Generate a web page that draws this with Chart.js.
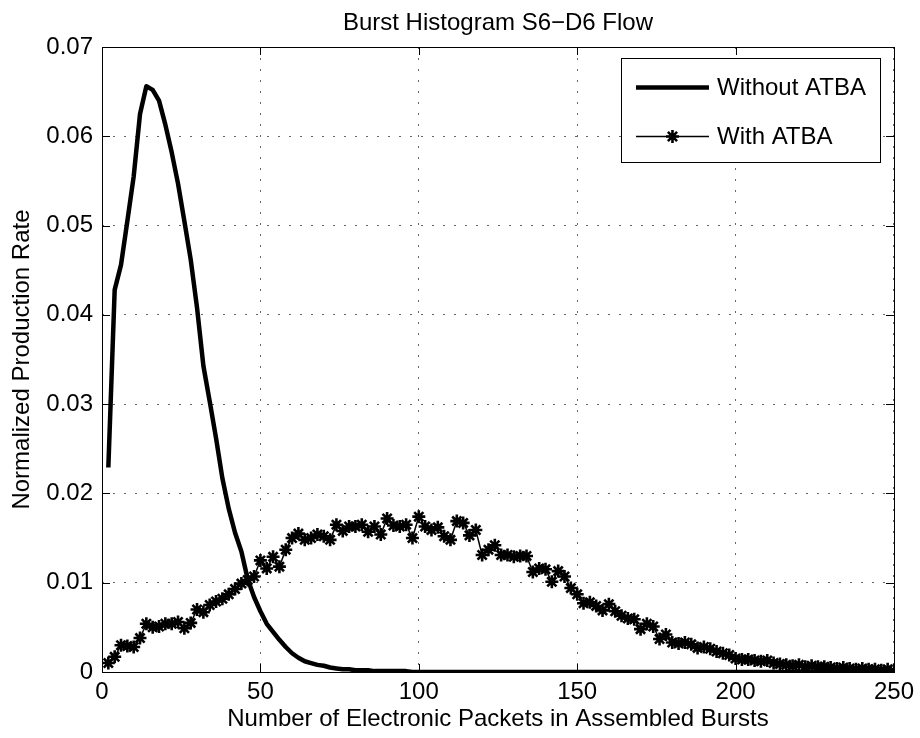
<!DOCTYPE html>
<html>
<head>
<meta charset="utf-8">
<script src="https://cdn.jsdelivr.net/npm/chart.js@4/dist/chart.umd.min.js"></script>
<style>
  html, body { margin: 0; padding: 0; background: #fff; }
  #wrap { width: 920px; height: 738px; }
</style>
</head>
<body>
<div id="wrap"><canvas id="c" width="920" height="738"></canvas></div>
<script>
// ---- data ----
const xBins = [
  2,4,6,8,10,12,14,16,18,20,22,24,26,28,30,32,34,36,38,40,42,44,46,48,50,
  52,54,56,58,60,62,64,66,68,70,72,74,76,78,80,82,84,86,88,90,92,94,96,98,100,
  102,104,106,108,110,112,114,116,118,120,122,124,126,128,130,132,134,136,138,140,142,144,146,148,150,
  152,154,156,158,160,162,164,166,168,170,172,174,176,178,180,182,184,186,188,190,192,194,196,198,200,
  202,204,206,208,210,212,214,216,218,220,222,224,226,228,230,232,234,236,238,240,242,244,246,248,250
];
const withoutATBA = [
  0.0229,0.0428,0.0456,0.0505,0.0555,0.0625,0.0656,0.0652,0.0640,0.0613,
  0.0582,0.0547,0.0505,0.0462,0.0408,0.0343,0.0303,0.0262,0.0217,0.0183,
  0.0156,0.0135,0.0104,0.0084,0.0068,0.0054,0.0045,0.0036,0.0028,0.0021,
  0.0016,0.0012,0.0010,0.0008,0.0007,0.0005,0.0004,0.0003,0.0003,0.0002,
  0.0002,0.0002,0.0001,0.0001,0.0001,0.0001,0.0001,0.0001,0,0,
  0,0,0,0,0,0,0,0,0,0,0,0,0,0,0,0,0,0,0,0,0,0,0,0,0,
  0,0,0,0,0,0,0,0,0,0,0,0,0,0,0,0,0,0,0,0,0,0,0,0,0,
  0,0,0,0,0,0,0,0,0,0,0,0,0,0,0,0,0,0,0,0,0,0,0,0,0
];
const withATBA = [
  0.0010,0.0017,0.0030,0.0029,0.0028,0.0038,0.0054,0.0050,0.0051,0.0054,
  0.0054,0.0056,0.0049,0.0055,0.0070,0.0067,0.0075,0.0079,0.0082,0.0087,
  0.0093,0.0099,0.0103,0.0107,0.0125,0.0116,0.0129,0.0118,0.0137,0.0150,
  0.0155,0.0148,0.0150,0.0154,0.0152,0.0148,0.0165,0.0158,0.0163,0.0163,
  0.0165,0.0157,0.0163,0.0154,0.0172,0.0164,0.0163,0.0165,0.0150,0.0174,
  0.0163,0.0159,0.0162,0.0152,0.0148,0.0169,0.0167,0.0153,0.0159,0.0131,
  0.0137,0.0142,0.0131,0.0131,0.0129,0.0130,0.0130,0.0112,0.0116,0.0115,
  0.0101,0.0113,0.0107,0.0094,0.0087,0.0077,0.0078,0.0074,0.0069,0.0076,
  0.0068,0.0063,0.0060,0.0059,0.0048,0.0054,0.0051,0.0037,0.0042,0.0033,
  0.0032,0.0033,0.0031,0.0027,0.0028,0.0026,0.0023,0.0021,0.0019,0.0015,
  0.0014,0.0014,0.0013,0.0012,0.0013,0.0010,0.0009,0.0008,0.0007,0.0008,
  0.0006,0.0007,0.0006,0.0006,0.0005,0.0004,0.0005,0.0004,0.0003,0.0004,
  0.0003,0.0003,0.0002,0.0003,0.0002
];
const xTicks = [0, 50, 100, 150, 200, 250];
const yTicks = [0, 0.01, 0.02, 0.03, 0.04, 0.05, 0.06, 0.07];
const seriesLabels = ['Without ATBA', 'With ATBA'];
const chartTitle = 'Burst Histogram S6\u2212D6 Flow';
const xTitle = 'Number of Electronic Packets in Assembled Bursts';
const yTitle = 'Normalized Production Rate';

// ---- styling ----
const FONT = "'Liberation Sans', Arial, Helvetica, sans-serif";
const FS = 24;

const toPoints = (ys) => xBins.map((x, i) => ({ x: x, y: ys[i] }));

// title centred over the axes (MATLAB style)
const titlePlugin = {
  id: 'axesTitle',
  afterDraw(chart) {
    const { ctx, chartArea: a } = chart;
    ctx.save();
    ctx.fillStyle = '#000';
    ctx.font = FS + 'px ' + FONT;
    ctx.textAlign = 'center';
    ctx.textBaseline = 'alphabetic';
    ctx.fillText(chartTitle, (a.left + a.right) / 2, a.top - 17);
    ctx.restore();
  }
};

// frame with inward ticks on all four sides
const framePlugin = {
  id: 'frame',
  afterDatasetsDraw(chart) {
    const { ctx, chartArea: a, scales } = chart;
    ctx.save();
    ctx.strokeStyle = '#000';
    ctx.lineWidth = 1;
    ctx.setLineDash([]);
    ctx.strokeRect(Math.round(a.left) + 0.5, Math.round(a.top) + 0.5,
                   Math.round(a.right - a.left), Math.round(a.bottom - a.top));
    const L = 8;
    ctx.beginPath();
    xTicks.forEach(v => {
      const px = Math.round(scales.x.getPixelForValue(v)) + 0.5;
      ctx.moveTo(px, a.bottom); ctx.lineTo(px, a.bottom - L);
      ctx.moveTo(px, a.top); ctx.lineTo(px, a.top + L);
    });
    yTicks.forEach(v => {
      const py = Math.round(scales.y.getPixelForValue(v)) + 0.5;
      ctx.moveTo(a.left, py); ctx.lineTo(a.left + L, py);
      ctx.moveTo(a.right, py); ctx.lineTo(a.right - L, py);
    });
    ctx.stroke();
    ctx.restore();
  }
};

// MATLAB-style legend box inside the axes, top-right
const legendPlugin = {
  id: 'boxLegend',
  afterDraw(chart) {
    const { ctx, chartArea: a } = chart;
    const w = 259, h = 104;
    const right = a.right - 14, top = a.top + 11;
    const left = right - w;
    ctx.save();
    ctx.fillStyle = '#fff';
    ctx.fillRect(left, top, w, h);
    ctx.strokeStyle = '#000';
    ctx.lineWidth = 1;
    ctx.strokeRect(Math.round(left) + 0.5, Math.round(top) + 0.5, w, h);
    const rows = [top + 29, top + 78];
    const x0 = left + 15, x1 = left + 88;
    chart.data.datasets.forEach((ds, i) => {
      const y = Math.round(rows[i]) + 0.5;
      ctx.strokeStyle = '#000';
      ctx.lineWidth = ds.borderWidth;
      ctx.beginPath();
      ctx.moveTo(x0, y); ctx.lineTo(x1, y);
      ctx.stroke();
      if (ds.pointRadius > 0) {
        ctx.lineWidth = ds.pointBorderWidth;
        Chart.helpers.drawPoint(ctx, { pointStyle: ds.pointStyle, radius: ds.pointRadius, borderWidth: ds.pointBorderWidth, rotation: 0 }, (x0 + x1) / 2, y);
      }
      ctx.fillStyle = '#000';
      ctx.font = FS + 'px ' + FONT;
      ctx.textBaseline = 'middle';
      ctx.textAlign = 'left';
      ctx.fillText(ds.label, left + 96, rows[i] + 1);
    });
    ctx.restore();
  }
};

new Chart(document.getElementById('c'), {
  type: 'line',
  data: {
    datasets: [
      {
        label: seriesLabels[0],
        data: toPoints(withoutATBA),
        borderColor: '#000',
        backgroundColor: '#000',
        borderWidth: 4.5,
        pointRadius: 0,
        pointHoverRadius: 0,
        tension: 0,
        order: 1,
        borderJoinStyle: 'round',
        borderCapStyle: 'butt'
      },
      {
        label: seriesLabels[1],
        data: toPoints(withATBA),
        borderColor: '#000',
        backgroundColor: '#000',
        borderWidth: 1.5,
        pointStyle: 'star',
        pointRadius: 6.5,
        pointBorderWidth: 2.6,
        pointBorderColor: '#000',
        pointBackgroundColor: '#000',
        tension: 0,
        order: 0
      }
    ]
  },
  options: {
    responsive: false,
    devicePixelRatio: 1,
    animation: false,
    events: [],
    layout: { padding: { top: 47, left: 0, right: 24, bottom: 0 } },
    plugins: {
      legend: { display: false },
      tooltip: { enabled: false },
      title: { display: false }
    },
    scales: {
      x: {
        type: 'linear',
        min: 0, max: 250,
        afterBuildTicks: (s) => { s.ticks = xTicks.map(v => ({ value: v })); },
        afterFit: (s) => { s.height = 66; },
        ticks: {
          color: '#000',
          font: { family: FONT, size: FS },
          padding: 6,
          maxRotation: 0,
          autoSkip: false,
          callback: (v) => String(v)
        },
        grid: { color: '#666', lineWidth: 1, drawTicks: false },
        border: { display: false, dash: [2, 9] },
        title: {
          display: true,
          text: xTitle,
          color: '#000',
          font: { family: FONT, size: FS },
          padding: { top: 0, bottom: 4 }
        }
      },
      y: {
        type: 'linear',
        min: 0, max: 0.07,
        afterBuildTicks: (s) => { s.ticks = yTicks.map(v => ({ value: v })); },
        afterFit: (s) => { s.width = 102; },
        ticks: {
          color: '#000',
          font: { family: FONT, size: FS },
          padding: 9,
          autoSkip: false,
          callback: (v) => String(Number(v.toFixed(2)))
        },
        grid: { color: '#666', lineWidth: 1, drawTicks: false },
        border: { display: false, dash: [2, 9] },
        title: {
          display: true,
          text: yTitle,
          color: '#000',
          font: { family: FONT, size: FS },
          padding: { top: 8, bottom: 0 }
        }
      }
    }
  },
  plugins: [framePlugin, legendPlugin, titlePlugin]
});
</script>
</body>
</html>
